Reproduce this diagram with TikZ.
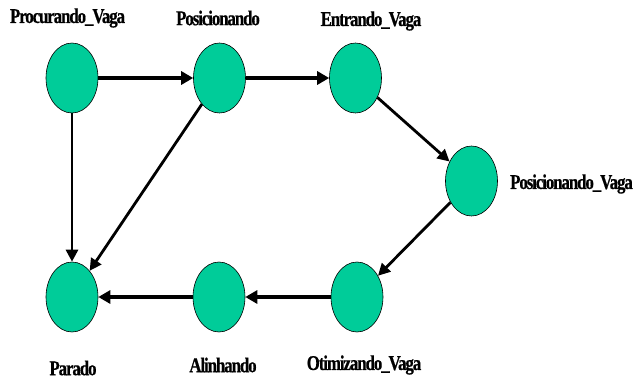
\documentclass[tikz,border=0pt]{standalone}
\usepackage{fontspec}
\newfontfamily\lblfont{Liberation Serif}[FakeStretch=0.8,LetterSpace=-5,BoldFeatures={FakeBold=0.6}]
\usetikzlibrary{shapes.geometric,arrows.meta}
\definecolor{stfill}{RGB}{0,204,153}
\tikzset{
  st/.style={ellipse, draw=black, line width=0.6pt, fill=stfill, minimum width=52pt, minimum height=70pt, inner sep=0pt},
  lbl/.style={font=\lblfont\fontsize{21}{21}\selectfont\bfseries, inner sep=0pt},
  thick arr/.style={line width=3.8pt, -{Triangle[length=12pt,width=13pt]}},
  thin arr/.style={line width=2.8pt, -{Triangle[length=12pt,width=12pt]}},
}
\begin{document}
\begin{tikzpicture}[x=1pt,y=-1pt]
\useasboundingbox (0,0) rectangle (641,381);
\fill[white] (0,0) rectangle (641,381);
\node[st] (pv) at (72,78) {};
\node[st] (po) at (219.5,78) {};
\node[st] (en) at (355.5,78) {};
\node[st] (pva) at (471.5,181) {};
\node[st] (ot) at (357,297) {};
\node[st] (al) at (219,297) {};
\node[st] (pa) at (72,297) {};
\node[lbl] (lpv) at (67.5,18) {Procurando\_Vaga};
\node[lbl] (lpo) at (218,18) {Posicionando};
\node[lbl] (len) at (371,21) {Entrando\_Vaga};
\node[lbl,anchor=west] (lpva) at (510,184) {Posicionando\_Vaga};
\node[lbl] (lpa) at (73,368) {Parado};
\node[lbl] (lal) at (223,365) {Alinhando};
\node[lbl] (lot) at (364,365) {Otimizando\_Vaga};
\draw[thick arr] (pv) -- (po);
\draw[thick arr] (po) -- (en);
\draw[thin arr] (en) -- (pva);
\draw[thin arr] (pva) -- (ot);
\draw[thick arr] (ot) -- (al);
\draw[thick arr] (al) -- (pa);
\draw[thin arr] (pv) -- (pa);
\draw[thin arr] (po) -- (pa);
\end{tikzpicture}
\end{document}
